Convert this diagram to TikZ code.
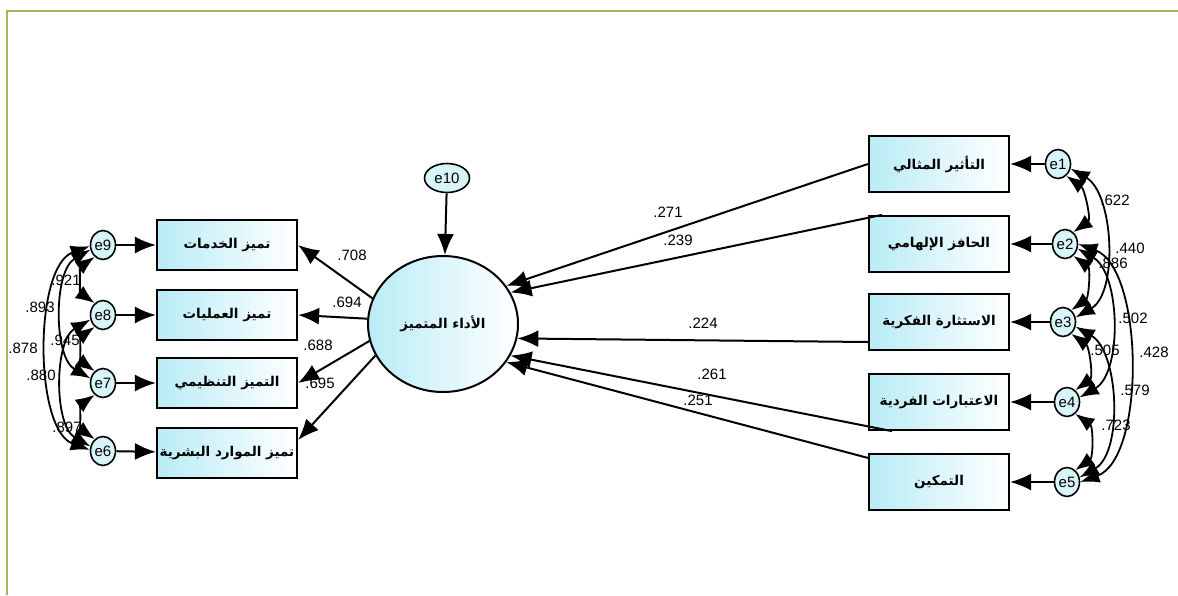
\documentclass[tikz,border=0pt]{standalone}
\usepackage{fontspec}
\setmainfont{Liberation Sans}
\newfontfamily\arabicfont[Script=Arabic]{DejaVu Sans}
\TeXXeTstate=1
\usetikzlibrary{arrows.meta,calc,shapes.geometric}
\definecolor{bordergreen}{RGB}{155,187,89}
\definecolor{boxcyan}{RGB}{185,236,246}
\definecolor{ecyan}{RGB}{215,244,248}
\tikzset{
  obsbox/.style={draw=black, line width=2.2pt, left color=boxcyan, right color=white,
    minimum width=140pt, minimum height=50pt, inner sep=2pt,
    font=\arabicfont\bfseries\fontsize{13.5}{15}\selectfont},
  obsboxr/.style={obsbox, minimum height=56pt},
  errnode/.style={ellipse, draw=black, line width=1.6pt, fill=ecyan,
    minimum width=25pt, minimum height=29pt, inner sep=0pt,
    font=\fontsize{15}{15}\selectfont},
  latentnode/.style={ellipse, draw=black, line width=2pt, left color=boxcyan, right color=white,
    minimum width=150pt, minimum height=136pt, inner sep=0pt,
    font=\arabicfont\bfseries\fontsize{13.5}{15}\selectfont},
  arr/.style={line width=2pt, -{Latex[length=21pt,width=17pt]}},
  cov/.style={line width=1.8pt, {Latex[length=19pt,width=15pt]}-{Latex[length=19pt,width=15pt]}},
  lbl/.style={font=\fontsize{15}{15}\selectfont, inner sep=0pt}
}
\begin{document}
\begin{tikzpicture}[x=1pt,y=1pt]
\useasboundingbox (0,0) rectangle (1178,-595);
\draw[bordergreen, line width=2.5pt] (7,-595) -- (7,-11) -- (1178,-11);

% left observed boxes
\node[obsbox] (l1) at (227,-245) {\beginR تميز الخدمات\endR};
\node[obsbox] (l2) at (227,-315) {\beginR تميز العمليات\endR};
\node[obsbox] (l3) at (227,-383) {\beginR التميز التنظيمي\endR};
\node[obsbox] (l4) at (227,-453) {\beginR تميز الموارد البشرية\endR};

% right observed boxes
\node[obsboxr] (b1) at (939,-164) {\beginR التأثير المثالي\endR};
\node[obsboxr] (b2) at (939,-244) {\beginR الحافز الإلهامي\endR};
\node[obsboxr] (b3) at (939,-322) {\beginR الاستثارة الفكرية\endR};
\node[obsboxr] (b4) at (939,-402) {\beginR الاعتبارات الفردية\endR};
\node[obsboxr] (b5) at (939,-482) {\beginR التمكين\endR};

% latent
\node[latentnode] (c) at (443,-324) {\beginR الأداء المتميز\endR};
\node[errnode, minimum width=45pt] (e10) at (447,-178) {e10};

% error nodes left
\node[errnode] (e9) at (103,-245) {e9};
\node[errnode] (e8) at (103,-315) {e8};
\node[errnode] (e7) at (103,-383) {e7};
\node[errnode] (e6) at (103,-451) {e6};

% error nodes right
\node[errnode] (e1) at (1058,-164) {e1};
\node[errnode] (e2) at (1065,-244) {e2};
\node[errnode] (e3) at (1063,-322) {e3};
\node[errnode] (e4) at (1067,-402) {e4};
\node[errnode] (e5) at (1067,-482) {e5};

% error arrows
\draw[arr] (e10) -- (c);
\draw[arr] (e9) -- (l1);
\draw[arr] (e8) -- (l2);
\draw[arr] (e7) -- (l3);
\draw[arr] (e6) -- (l4);
\draw[arr] (e1) -- (b1);
\draw[arr] (e2) -- (b2);
\draw[arr] (e3) -- (b3);
\draw[arr] (e4) -- (b4);
\draw[arr] (e5) -- (b5);

% loadings
\draw[arr] (c.160) -- (l1.east);
\draw[arr] (c.176) -- (l2.east);
\draw[arr] (c.193) -- (l3.east);
\draw[arr] (c.205) -- ($(l4.east)+(0,13)$);

% structural paths
\draw[arr] (b1.west) -- (c.31);
\draw[arr] ($(b2.north west)+(14,0)$) -- (c.25);
\draw[arr] ($(b3.west)+(0,-20)$) -- (c.-11);
\draw[arr] ($(b4.south west)+(24,0)$) -- (c.-25);
\draw[arr] ($(b5.north west)+(0,-5)$) -- (c.-31);

% labels
\node[lbl] (t708) at (352,-255) {.708};
\node[lbl] (t694) at (347,-302) {.694};
\node[lbl] (t688) at (318,-345) {.688};
\node[lbl] (t695) at (320,-383) {.695};
\node[lbl] (t271) at (668,-212) {.271};
\node[lbl] (t239) at (678,-240) {.239};
\node[lbl] (t224) at (703,-323) {.224};
\node[lbl] (t261) at (712,-374) {.261};
\node[lbl] (t251) at (698,-400) {.251};

% left covariances
\draw[cov] (e9.235) to[out=215,in=145] (e8.125);
\draw[cov] (e8.235) to[out=215,in=145] (e7.125);
\draw[cov] (e7.235) to[out=215,in=145] (e6.125);
\draw[cov] (e9.200) to[out=210,in=150,looseness=0.85] (e7.160);
\draw[cov] (e8.200) to[out=210,in=150,looseness=0.85] (e6.160);
\draw[cov] (e9.185) to[out=200,in=160,looseness=0.75] (e6.175);
\node[lbl] (t921) at (66,-280) {.921};
\node[lbl] (t893) at (40,-307) {.893};
\node[lbl] (t945) at (65,-340) {.945};
\node[lbl] (t878) at (23,-348) {.878};
\node[lbl] (t880) at (41,-375) {.880};
\node[lbl] (t897) at (67,-427) {.897};

% right covariances
\draw[cov] (e1.-55) to[out=-35,in=35] (e2.55);
\draw[cov] (e2.-55) to[out=-35,in=35] (e3.55);
\draw[cov] (e3.-55) to[out=-35,in=35] (e4.55);
\draw[cov] (e4.-55) to[out=-35,in=35] (e5.55);
\draw[cov] (e1.-20) to[out=-30,in=30,looseness=0.85] (e3.20);
\draw[cov] (e2.-20) to[out=-30,in=30,looseness=0.85] (e4.20);
\draw[cov] (e3.-20) to[out=-30,in=30,looseness=0.85] (e5.20);
\draw[cov] (e2.0) to[out=-20,in=20,looseness=0.75] (e5.0);
\node[lbl] (t622) at (1115,-200) {.622};
\node[lbl] (t440) at (1130,-248) {.440};
\node[lbl] (t886) at (1113,-263) {.886};
\node[lbl] (t502) at (1133,-318) {.502};
\node[lbl] (t505) at (1105,-350) {.505};
\node[lbl] (t428) at (1154,-352) {.428};
\node[lbl] (t579) at (1135,-390) {.579};
\node[lbl] (t723) at (1116,-425) {.723};
\end{tikzpicture}
\end{document}
